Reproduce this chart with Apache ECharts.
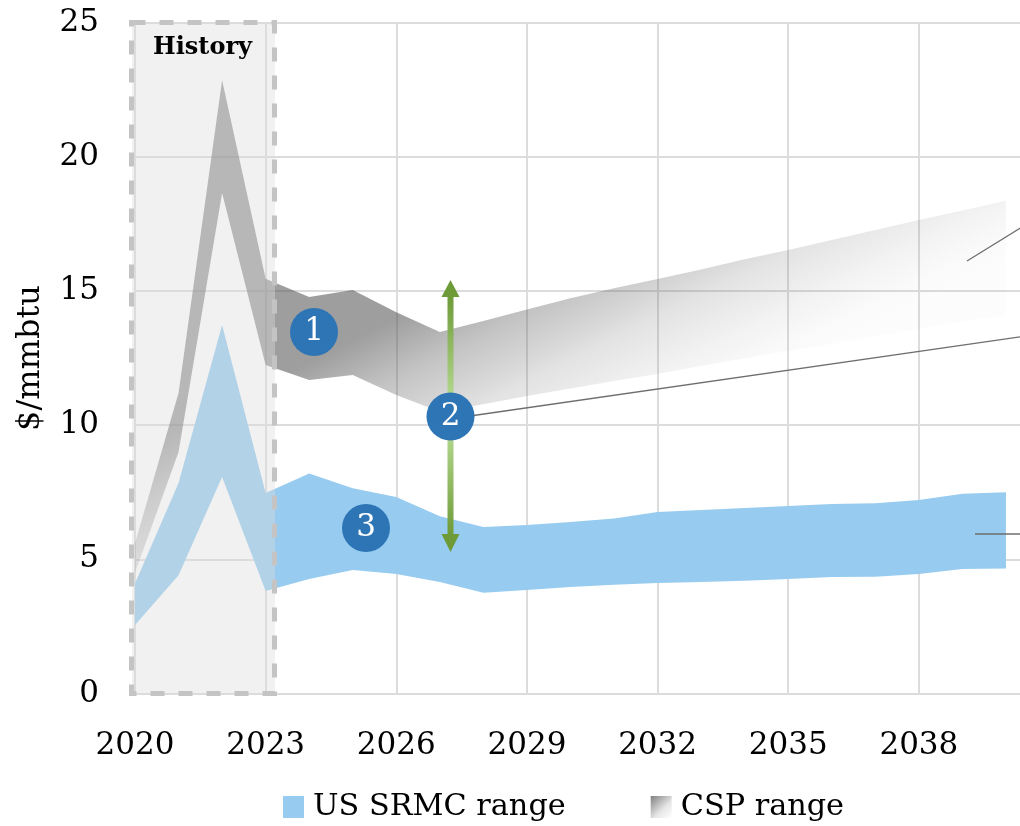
<!DOCTYPE html>
<html>
<head>
<meta charset="utf-8">
<style>html,body{margin:0;padding:0;background:#fff;overflow:hidden}#chart{width:1020px;height:826px}</style>
<script src="https://cdn.jsdelivr.net/npm/echarts@6/dist/echarts.min.js"></script>
</head>
<body>
<div id="chart"></div>
<script>
// Forward gas price ranges, $/mmbtu. The trailing blank category lets the axis run past 2040.
const years = ['2020','2021','2022','2023','2024','2025','2026','2027','2028','2029','2030','2031','2032','2033','2034','2035','2036','2037','2038','2039','2040',''];
const cspHigh = [5.6,11.2,22.85,15.45,14.77,15.03,14.2,13.47,13.88,14.31,14.73,15.1,15.44,15.8,16.18,16.52,16.9,17.27,17.64,18.0,18.36];
const cspLow = [4.5,9.0,18.65,12.24,11.68,11.87,11.12,10.5,10.78,11.08,11.36,11.64,11.9,12.2,12.49,12.76,13.02,13.3,13.58,13.85,14.1];
const srmcHigh = [4.1,7.84,13.73,7.47,8.2,7.65,7.32,6.6,6.2,6.28,6.39,6.52,6.76,6.84,6.91,6.99,7.06,7.09,7.21,7.44,7.5];
const srmcLow = [2.55,4.41,8.07,3.82,4.27,4.6,4.45,4.15,3.75,3.86,3.97,4.05,4.12,4.15,4.2,4.27,4.34,4.35,4.45,4.64,4.66];
const yTicks = {min: 0, max: 25, interval: 5};
const seriesNames = ['US SRMC range', 'CSP range'];
const badgeLabels = ['1', '2', '3'];

const FONT = '"DejaVu Serif"';
const GRID = '#dcdcdc';
const BLUE = '#97ccf0';
const BADGE = '#2e75b6';
const LEADER = '#6e6e6e';

const G = echarts.graphic;
const cspFill = new G.LinearGradient(0.247, 0.447, 0.381, 0.917, [
  {offset: 0, color: 'rgba(88,88,88,0.58)'},
  {offset: 0.14, color: 'rgba(88,88,88,0.58)'},
  {offset: 0.345, color: 'rgba(88,88,88,0.36)'},
  {offset: 0.49, color: 'rgba(88,88,88,0.25)'},
  {offset: 0.59, color: 'rgba(88,88,88,0.17)'},
  {offset: 0.78, color: 'rgba(88,88,88,0.08)'},
  {offset: 0.91, color: 'rgba(88,88,88,0.03)'},
  {offset: 1, color: 'rgba(88,88,88,0.015)'}
]);
const cspSwatch = new G.LinearGradient(0, 0, 1, 1, [
  {offset: 0, color: '#7f7f7f'},
  {offset: 0.6, color: '#e6e6e6'},
  {offset: 1, color: '#ffffff'}
]);
const arrowFill = new G.LinearGradient(0, 0, 0, 1, [
  {offset: 0, color: '#6e9a37'},
  {offset: 0.45, color: '#b7dc93'},
  {offset: 0.55, color: '#b7dc93'},
  {offset: 1, color: '#6e9a37'}
]);

// One closed polygon per range, so a single gradient spans the whole band.
function bandItem(high, low, fill) {
  return function (params, api) {
    if (params.dataIndex !== 0) return null;
    const top = high.map((v, i) => api.coord([i, v]));
    const bottom = low.map((v, i) => api.coord([i, v])).reverse();
    return {type: 'polygon', shape: {points: top.concat(bottom)}, style: {fill: fill}};
  };
}
function bandSeries(name, high, low, fill, z) {
  return {
    name: name, type: 'custom', z: z, silent: true, clip: false,
    encode: {x: 0, y: [1, 2]},
    data: high.map((v, i) => [i, low[i], v]),
    renderItem: bandItem(high, low, fill)
  };
}
function badge(x, y, text) {
  return {type: 'group', z: 60, children: [
    {type: 'circle', z: 60, shape: {cx: x, cy: y, r: 24}, style: {fill: BADGE}},
    {type: 'text', z: 61, x: x, y: y, style: {text: text, fill: '#fff', font: '31px ' + FONT, align: 'center', verticalAlign: 'middle'}}
  ]};
}
function leader(x1, y1, x2, y2) {
  return {type: 'line', z: 40, shape: {x1, y1, x2, y2}, style: {stroke: LEADER, lineWidth: 1.3}};
}

const chart = echarts.init(document.getElementById('chart'), null, {renderer: 'canvas'});
chart.setOption({
  animation: false,
  backgroundColor: '#fff',
  textStyle: {fontFamily: FONT},
  grid: {left: 135, top: 22.5, width: 914.5, height: 671, containLabel: false, outerBoundsMode: 'none'},
  xAxis: {
    type: 'category', data: years, boundaryGap: false,
    axisLine: {lineStyle: {color: GRID, width: 2}},
    axisTick: {show: false},
    axisLabel: {interval: 2, margin: 37, fontFamily: FONT, fontSize: 31, color: '#000', showMaxLabel: false},
    splitLine: {show: true, interval: 2, lineStyle: {color: GRID, width: 2}}
  },
  yAxis: {
    type: 'value', min: yTicks.min, max: yTicks.max, interval: yTicks.interval,
    name: '$/mmbtu', nameLocation: 'middle', nameGap: 88, nameRotate: 90,
    nameTextStyle: {fontFamily: FONT, fontSize: 32, color: '#000'},
    axisLine: {show: false}, axisTick: {show: false},
    axisLabel: {margin: 36, fontFamily: FONT, fontSize: 31, color: '#000'},
    splitLine: {lineStyle: {color: GRID, width: 2}}
  },
  legend: {
    left: 283, top: 792, padding: 0, itemWidth: 21, itemHeight: 22, itemGap: 85, icon: 'rect',
    selectedMode: false,
    textStyle: {fontFamily: FONT, fontSize: 30.3, color: '#000', padding: [0, 0, 0, 4]},
    data: [
      {name: seriesNames[0], itemStyle: {color: BLUE}},
      {name: seriesNames[1], itemStyle: {color: cspSwatch}}
    ]
  },
  series: [
    bandSeries(seriesNames[1], cspHigh, cspLow, cspFill, 3),
    bandSeries(seriesNames[0], srmcHigh, srmcLow, BLUE, 4)
  ],
  graphic: {elements: [
    // History panel
    {type: 'rect', z: 30, shape: {x: 132, y: 22.5, width: 143, height: 671}, style: {fill: 'rgba(220,220,220,0.4)'}},
    {type: 'rect', z: 31, shape: {x: 131.5, y: 22.5, width: 143, height: 671},
      style: {fill: 'none', stroke: '#c4c4c4', lineWidth: 5, lineDash: [14, 14]}},
    {type: 'text', z: 32, x: 202.5, y: 48, style: {text: 'History', fill: '#000', font: 'bold 24px ' + FONT, align: 'center', verticalAlign: 'middle'}},
    // Leader lines running off to the right
    leader(967, 261, 1040, 216),
    leader(470, 416, 1040, 334),
    leader(975, 534, 1040, 534),
    // Spread arrow between the two ranges
    {type: 'group', z: 50, children: [
      {type: 'rect', z: 50, shape: {x: 447.5, y: 295, width: 6, height: 241}, style: {fill: arrowFill}},
      {type: 'polygon', z: 50, shape: {points: [[450.5, 280], [459.5, 297], [441.5, 297]]}, style: {fill: '#6e9a37'}},
      {type: 'polygon', z: 50, shape: {points: [[450.5, 552], [459.5, 534], [441.5, 534]]}, style: {fill: '#6e9a37'}}
    ]},
    badge(314, 332, badgeLabels[0]),
    badge(450.5, 416.5, badgeLabels[1]),
    badge(366, 528, badgeLabels[2])
  ]}
});
</script>
</body>
</html>
